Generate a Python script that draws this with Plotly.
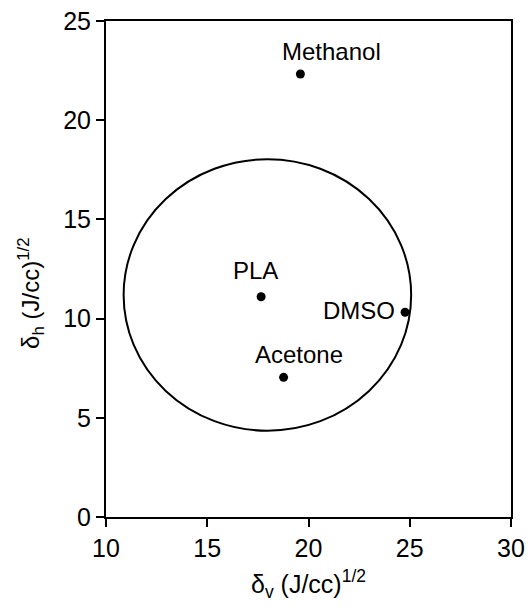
import plotly.graph_objects as go

# Hansen solubility parameters: polar/dispersion (delta_v) vs hydrogen bonding (delta_h)
names = ["Methanol", "PLA", "DMSO", "Acetone"]
delta_v = [19.6, 17.66, 24.77, 18.77]
delta_h = [22.33, 11.1, 10.32, 7.04]

# label offsets in pixels (x, y) relative to each point
label_dx = [31, -6, -8, 15]
label_dy = [22, 26, 2, 23]
label_anchor = ["center", "center", "right", "center"]

# solubility sphere of PLA (center and radii along each axis)
sphere_center = [17.97, 11.19]
sphere_radius = [7.1, 6.84]

font_family = "Liberation Sans, Arial, sans-serif"

fig = go.Figure()
fig.add_trace(go.Scatter(
    x=delta_v, y=delta_h, mode="markers",
    marker=dict(color="black", size=9),
    showlegend=False, hoverinfo="text", text=names,
))

fig.add_shape(
    type="circle", xref="x", yref="y",
    x0=sphere_center[0] - sphere_radius[0], x1=sphere_center[0] + sphere_radius[0],
    y0=sphere_center[1] - sphere_radius[1], y1=sphere_center[1] + sphere_radius[1],
    line=dict(color="black", width=2),
)

for n, xv, yv, dx, dy, anc in zip(names, delta_v, delta_h, label_dx, label_dy, label_anchor):
    fig.add_annotation(
        x=xv, y=yv, text=n, showarrow=False,
        xshift=dx, yshift=dy, xanchor=anc, yanchor="middle",
        font=dict(size=24, color="black", family=font_family),
    )

# y-axis title, placed a little below the axis midpoint
fig.add_annotation(
    xref="paper", yref="paper", x=-0.185, y=0.45,
    text="δ<sub>h</sub> (J/cc)<sup>1/2</sup>", textangle=-90, showarrow=False,
    xanchor="center", yanchor="middle",
    font=dict(size=24, color="black", family=font_family),
)

axis_common = dict(
    showgrid=False, zeroline=False, automargin=False,
    showline=True, linecolor="black", linewidth=2, mirror=True,
    ticks="outside", ticklen=8, tickwidth=1.5, tickcolor="black",
    tickfont=dict(size=25, color="black", family=font_family),
)

fig.update_xaxes(
    range=[10, 30], tickvals=[10, 15, 20, 25, 30],
    title=dict(text="δ<sub>v</sub> (J/cc)<sup>1/2</sup>", standoff=14,
               font=dict(size=25, color="black", family=font_family)),
    **axis_common,
)
fig.update_yaxes(
    range=[0, 25], tickvals=[0, 5, 10, 15, 20, 25],
    **axis_common,
)

fig.update_layout(
    width=528, height=609,
    margin=dict(l=106, r=17, t=21, b=92),
    paper_bgcolor="white", plot_bgcolor="white",
)

fig.write_html("out.html")
